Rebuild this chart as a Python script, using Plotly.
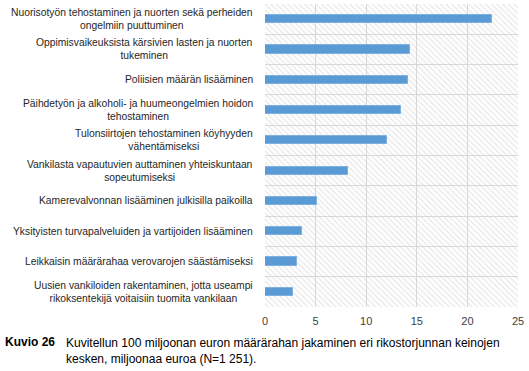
import plotly.graph_objects as go

categories = [
    "Nuorisotyön tehostaminen ja nuorten sekä perheiden<br>ongelmiin puuttuminen",
    "Oppimisvaikeuksista kärsivien lasten ja nuorten<br>tukeminen",
    "Poliisien määrän lisääminen",
    "Päihdetyön ja alkoholi- ja huumeongelmien hoidon<br>tehostaminen",
    "Tulonsiirtojen tehostaminen köyhyyden<br>vähentämiseksi",
    "Vankilasta vapautuvien auttaminen yhteiskuntaan<br>sopeutumiseksi",
    "Kamerevalvonnan lisääminen julkisilla paikoilla",
    "Yksityisten turvapalveluiden ja vartijoiden lisääminen",
    "Leikkaisin määrärahaa verovarojen säästämiseksi",
    "Uusien vankiloiden rakentaminen, jotta useampi<br>rikoksentekijä voitaisiin tuomita vankilaan",
]
values = [22.4, 14.3, 14.15, 13.4, 12.05, 8.2, 5.1, 3.65, 3.2, 2.75]
x_ticks = [0, 5, 10, 15, 20, 25]
x_max = 25

positions = list(range(len(categories)))

W, H = 529, 371
L, R, T, B = 265, 11, 4, 64
PW, PH = W - L - R, H - T - B


def px_x(px):
    return (px - L) / PW


def px_y(py):
    return (H - B - py) / PH


fig = go.Figure()

# hatched plot background
fig.add_trace(go.Bar(
    x=[x_max] * len(positions), y=positions, orientation="h", width=1,
    marker=dict(color="rgba(0,0,0,0)", line=dict(width=0),
                pattern=dict(shape="\\", fgcolor="#cfcfcf", bgcolor="rgba(0,0,0,0)",
                             size=4, solidity=0.3)),
    hoverinfo="skip", showlegend=False,
))

fig.add_trace(go.Bar(
    x=values, y=positions, orientation="h", width=0.27,
    marker=dict(color="#5b9bd5", line=dict(color="#7eb1e0", width=1)),
    showlegend=False,
))

annotations = []
for p, c in zip(positions, categories):
    annotations.append(dict(
        x=0, xref="paper", y=p, yref="y", text=c, showarrow=False,
        xanchor="right", yanchor="middle", align="center", xshift=-10,
        font=dict(family="Liberation Sans", size=10.3, color="#262626"),
    ))

annotations.append(dict(
    x=px_x(3), y=px_y(342), xref="paper", yref="paper", text="<b>Kuvio 26</b>",
    showarrow=False, xanchor="left", yanchor="middle",
    font=dict(family="Liberation Sans", size=12, color="black")))
annotations.append(dict(
    x=px_x(64), y=px_y(334), xref="paper", yref="paper",
    text="Kuvitellun 100 miljoonan euron määrärahan jakaminen eri rikostorjunnan keinojen<br>kesken, miljoonaa euroa (N=1 251).",
    showarrow=False, xanchor="left", yanchor="top", align="left",
    font=dict(family="Liberation Sans", size=12, color="black")))

fig.update_layout(
    width=W, height=H,
    margin=dict(l=L, r=R, t=T, b=B),
    paper_bgcolor="white", plot_bgcolor="white",
    barmode="overlay", bargap=0,
    xaxis=dict(range=[0, x_max], tickvals=x_ticks, showgrid=True, gridcolor="#d9d9d9",
               gridwidth=1, zeroline=False, showline=False,
               tickfont=dict(family="Liberation Sans", size=11, color="#404040"),
               ticks="", ticklabelstandoff=6),
    yaxis=dict(range=[9.5, -0.5], showticklabels=False, showgrid=False, zeroline=False,
               tickvals=positions,
               minor=dict(tickvals=[p - 0.5 for p in positions] + [positions[-1] + 0.5],
                          showgrid=True, gridcolor="#d9d9d9", gridwidth=1, ticks="")),
    annotations=annotations,
)

fig.write_html("out.html", config={"displayModeBar": False},
               post_script="document.body.style.margin='0';")
